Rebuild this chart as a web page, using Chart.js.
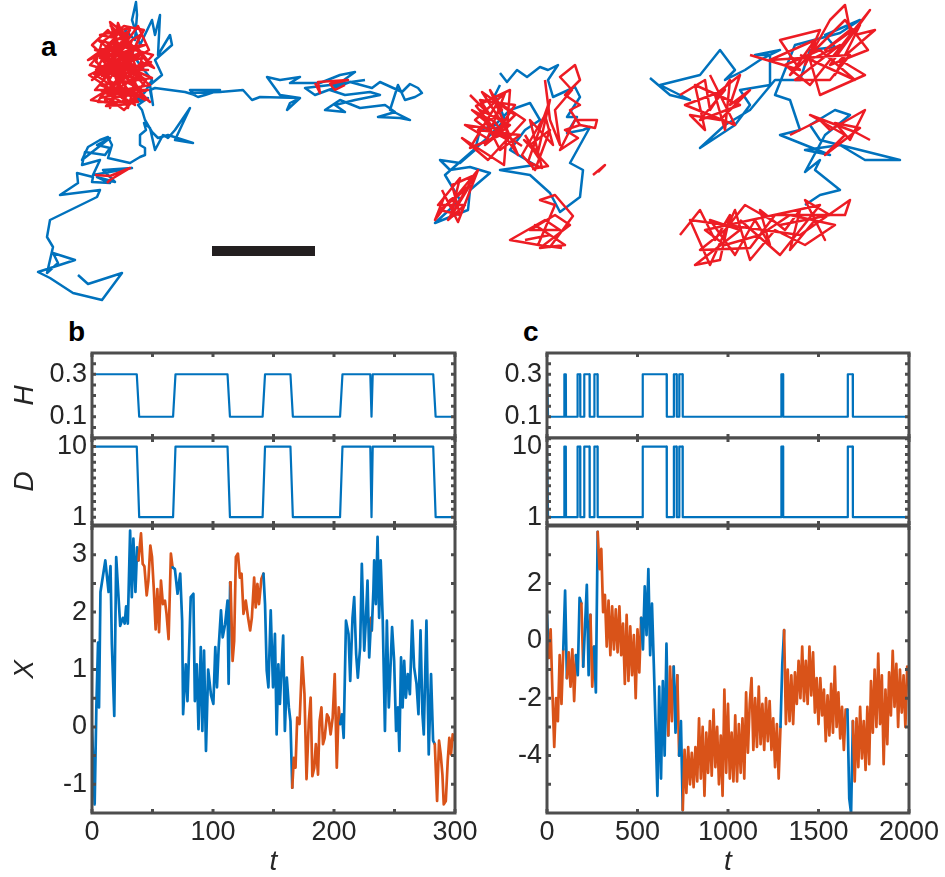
<!DOCTYPE html>
<html lang="en">
<head>
<meta charset="UTF-8">
<title>Switching diffusion traces</title>
<script src="https://cdn.jsdelivr.net/npm/chart.js"></script>
<style>
  body { margin: 0; background: #fff; width: 945px; height: 877px; position: relative; overflow: hidden;
         font-family: "Liberation Sans", Arial, sans-serif; }
  canvas { position: absolute; }
  .lbl { position: absolute; font-weight: bold; font-size: 28px; line-height: 1; color: #000; }
</style>
</head>
<body>
<div class="lbl" style="left:41px;top:33px">a</div>
<div class="lbl" style="left:68px;top:318px">b</div>
<div class="lbl" style="left:523px;top:318px">c</div>

<script>
// ---------- data ----------
// panel a: trajectories (um, y downwards), blue = fast state, red = slow state
const traj1Blue = [[7.8,27.5],[8.8,28.4],[12.2,27.3],[10.2,30.0],[7.3,29.3],[5.0,27.8],[3.8,27.2],[7.5,26.0],[5.3,25.3],[5.8,26.3],[4.7,27.3],[5.3,24.7],[4.7,23.7],[5.0,22.0],[9.7,19.7],[10.0,19.0],[6.0,19.5],[7.8,18.3],[7.7,17.3],[9.3,17.7],[9.2,18.2],[11.0,18.3],[9.7,17.7],[11.5,18.2],[10.3,17.0],[13.2,16.8],[9.3,17.5],[10.0,16.0],[8.2,16.5],[8.5,15.2],[10.5,15.5],[11.0,14.8],[9.7,14.5],[11.0,13.8],[8.2,16.0],[8.8,14.7],[10.0,14.0],[10.8,13.7],[11.2,14.5],[10.8,15.8],[13.0,16.3],[14.0,15.7],[14.5,15.5],[14.5,14.8],[14.0,14.5],[14.0,13.5],[14.6,13.0],[14.4,12.3],[15.0,12.8],[15.5,15.0],[16.3,13.5],[16.8,13.8],[17.5,13.0],[19.0,10.8],[17.5,14.0],[19.3,14.3],[16.8,13.5],[15.8,13.8],[15.2,13.2],[14.5,12.0],[14.2,11.0],[13.8,10.5],[14.8,9.8],[13.5,10.2],[14.5,9.2],[15.2,8.0],[14.0,6.5],[13.0,5.0],[12.5,3.0],[13.5,4.0],[13.7,1.5],[13.6,0.2],[13.2,2.0],[14.0,4.5],[15.2,2.0],[15.5,3.5],[16.0,1.5],[15.8,5.5],[17.0,3.5],[17.2,4.5],[15.5,6.0],[16.2,7.5],[15.0,8.5],[15.3,10.5],[15.0,9.0],[15.5,8.8],[18.5,9.2],[19.5,9.5],[19.0,9.0],[22.0,9.0],[20.5,9.5],[19.8,9.7],[19.0,9.3],[22.0,9.2],[24.3,9.0],[25.2,10.0],[26.0,9.7],[30.0,9.8],[28.7,11.0],[29.0,10.3],[30.0,9.8],[28.0,9.5],[26.7,7.7],[28.0,8.0],[30.0,7.7],[29.0,8.3],[32.0,8.3],[34.0,7.5],[35.5,7.2],[33.0,9.0],[34.5,9.5],[37.0,9.2],[38.0,9.5],[35.5,10.0],[33.5,10.5],[34.5,11.2],[32.5,11.0],[34.0,10.0],[36.0,10.8],[38.5,10.5],[39.5,11.2],[37.8,11.7],[40.0,11.8],[41.0,12.0],[39.0,11.0],[39.8,8.5],[40.5,10.0],[41.5,9.7],[42.2,9.3],[41.8,8.8],[41.0,8.4],[40.2,9.2],[38.0,8.2],[37.2,8.8],[35.0,8.2],[31.5,9.5],[30.5,8.8],[33.0,8.5],[36.5,8.0]];
const traj1Red = [[11.0,2.5],[12.5,4.0],[10.0,3.5],[13.0,2.8],[11.5,5.5],[14.5,4.5],[9.5,5.0],[13.5,6.0],[10.5,7.0],[15.0,6.5],[12.0,3.2],[9.0,6.5],[14.0,8.0],[11.0,4.5],[12.8,9.5],[10.0,8.5],[15.2,7.8],[11.5,6.2],[8.9,7.5],[13.5,10.5],[12.0,7.5],[10.5,10.0],[14.8,9.0],[9.5,9.0],[13.0,5.0],[11.0,10.8],[14.0,3.5],[10.2,6.0],[12.5,8.5],[15.3,5.5],[9.8,4.0],[13.8,7.2],[11.8,2.3],[10.8,8.0],[14.5,10.0],[12.2,6.0],[9.2,8.0],[13.2,4.0],[11.2,9.2],[15.0,8.5],[10.5,5.2],[12.8,10.8],[14.2,5.8],[9.6,7.0],[11.5,3.8],[13.6,9.0],[10.0,9.8],[12.6,7.0],[14.8,7.0],[11.0,6.8],[13.0,3.0],[9.4,5.8],[12.2,9.8],[14.4,8.5],[10.6,4.2],[13.4,6.6],[11.6,8.4],[15.1,6.2],[10.2,7.6],[12.4,5.2],[9.8,10.2],[13.8,10.2],[11.4,7.2],[12.9,8.0],[9.2,4.5],[10.8,3.0],[12.2,4.8],[13.8,2.6],[14.9,5.0],[12.6,6.4],[14.2,7.4],[11.8,8.8],[13.2,9.6],[10.4,9.2],[9.1,10.0],[11.6,10.4],[12.4,11.0],[14.0,9.4],[15.0,10.2],[13.0,8.2],[10.2,5.0],[8.8,6.0],[11.3,5.0],[12.8,3.6],[11.0,2.2],[12.0,5.6],[13.6,4.6],[15.4,6.8],[14.2,6.2],[12.6,7.8],[10.6,6.4],[9.4,7.4],[11.2,8.6],[12.0,9.0],[10.6,10.6],[13.0,10.4],[14.6,8.0],[13.2,7.0],[11.4,4.2],[10.0,5.8],[12.2,7.0],[13.8,5.4],[11.8,6.0],[10.4,7.8],[12.8,6.0],[14.4,3.0],[12.4,2.6],[10.2,4.2],[9.6,6.2],[11.4,7.6],[13.4,8.6],[12.2,10.2],[10.0,9.0],[11.6,9.4]];
const traj1RedB = [[9.5,17.5],[11.0,17.6],[13.0,16.8],[11.0,18.0],[10.7,18.3]];
const traj1RedC = [[31.5,8.3],[32.0,9.3],[31.8,8.2],[34.8,8.0],[33.0,8.4],[33.5,9.0],[34.5,8.5]];

const traj2Blue = [[50.0,7.3],[50.7,8.2],[51.7,7.0],[52.7,7.7],[54.0,6.7],[54.8,7.0],[55.8,6.5],[54.8,8.0],[55.3,9.7],[57.5,8.7],[58.0,9.7],[56.7,11.7],[57.7,11.7],[56.7,13.3],[58.3,13.0],[59.0,12.7],[57.0,16.3],[58.3,17.0],[58.0,19.7],[56.0,21.2],[55.0,19.3],[53.0,17.5],[50.0,17.0],[53.5,16.5],[51.0,15.0],[52.5,13.0],[54.0,12.0],[53.0,10.3],[51.0,11.0],[49.5,12.5],[48.0,13.0],[47.5,15.0],[46.0,16.3],[44.0,16.0],[45.0,17.0],[47.0,16.7],[49.0,17.3],[47.0,19.0],[46.8,21.0],[45.5,21.5],[43.5,22.3],[46.0,20.0],[44.5,17.5],[48.5,14.0],[50.5,12.0],[49.5,9.5],[50.0,8.5]];
const traj2RedA = [[47.0,9.5],[49.0,11.5],[48.0,10.0],[51.5,10.5],[49.5,13.5],[47.5,12.0],[50.5,9.3],[48.5,14.5],[51.0,12.5],[48.0,11.0],[50.0,15.0],[52.0,13.5],[47.8,13.0],[50.2,11.0],[49.0,9.0],[51.8,15.5],[49.5,12.2],[47.2,11.0],[50.8,14.0],[48.5,12.8],[46.5,12.5],[49.0,14.0],[51.5,11.5],[48.2,9.2],[50.8,13.2],[47.0,14.8],[49.8,10.2],[52.5,12.0],[48.8,16.0],[46.2,13.8],[50.4,16.5],[51.0,9.0],[47.6,10.6],[49.2,12.6],[52.2,14.6]];
const traj2RedB = [[52.5,13.5],[54.0,16.0],[53.0,14.5],[55.0,13.0],[53.5,17.0],[52.2,15.5],[54.5,11.5],[55.3,14.5],[53.0,12.0],[54.2,16.8],[52.8,16.2],[55.0,10.0],[53.8,15.2],[52.4,14.0],[54.8,16.6],[53.2,16.9]];
const traj2RedC = [[54.5,8.0],[55.0,12.0],[56.0,14.5],[55.5,11.0],[57.2,9.0],[56.0,7.7],[57.5,6.5],[58.0,8.0],[56.5,9.5],[58.0,10.5],[57.0,11.0],[58.0,12.5],[56.5,13.0],[57.8,13.8],[56.0,15.0],[57.5,12.0],[59.7,12.0],[59.5,12.8],[58.0,12.5]];
const traj2RedD = [[59.3,17.5],[60.5,16.5],[59.8,17.2]];
const traj2RedE = [[44.5,19.5],[43.5,22.0],[45.0,20.0],[46.5,19.0],[44.0,21.0],[46.0,21.5],[45.2,18.5],[47.5,17.5],[44.8,22.0],[46.5,20.5],[43.8,20.5],[46.0,17.8],[45.0,21.8],[47.0,18.5],[45.5,19.8],[47.8,17.0],[45.8,22.2],[44.2,19.0]];
const traj2RedF = [[52.5,24.0],[55.0,23.5],[53.5,22.5],[56.5,24.5],[54.0,24.8],[57.0,22.5],[55.5,21.5],[53.0,23.0],[56.0,23.0],[54.5,22.0],[51.0,24.0],[55.0,24.7],[57.3,21.6],[55.5,19.5],[54.0,20.0],[55.5,20.5],[53.8,24.5],[56.2,24.8]];

const traj3Blue = [[65.0,7.8],[67.0,9.5],[69.0,10.0],[66.0,8.5],[70.0,7.5],[72.0,5.0],[73.5,7.0],[72.5,8.0],[74.5,7.0],[76.0,6.0],[78.0,5.0],[75.5,5.5],[77.0,5.5],[77.0,8.5],[74.0,9.0],[75.0,10.5],[73.5,12.5],[70.0,14.8],[72.5,12.5],[75.0,11.0],[77.5,8.0],[80.0,8.0],[81.0,5.0],[83.5,4.7],[82.5,3.5],[86.0,2.0],[84.0,3.3],[79.5,4.5],[77.5,9.5],[79.0,10.0],[80.0,13.0],[78.0,13.5],[83.0,15.5],[80.5,15.0],[84.0,14.5],[86.5,16.0],[90.0,16.0],[82.0,14.0],[81.0,12.5],[83.5,11.0],[85.0,11.5],[82.5,13.5],[80.5,17.2],[82.0,16.0],[81.5,17.0],[84.0,19.0],[82.0,19.5],[80.5,20.5]];
const traj3RedA = [[75.0,5.5],[80.0,7.0],[78.0,4.0],[82.0,3.0],[80.5,6.5],[83.0,2.0],[84.5,0.5],[85.0,3.0],[82.5,5.0],[86.0,2.5],[83.5,7.5],[85.5,3.5],[87.5,3.0],[84.0,6.0],[86.5,7.5],[82.0,9.5],[81.0,6.0],[84.0,4.5],[79.5,8.0],[83.0,8.0],[85.0,5.5],[77.0,6.0],[81.5,4.0],[79.0,7.5],[84.5,2.0],[86.8,5.0],[83.0,6.5],[87.0,1.0],[81.0,8.5],[78.5,6.5],[82.0,5.0],[85.5,8.0],[80.0,5.5]];
const traj3RedB = [[68.0,9.5],[70.5,8.0],[71.0,11.0],[73.0,8.0],[72.5,13.0],[71.5,9.5],[74.0,7.5],[73.0,10.5],[75.0,9.0],[72.0,12.0],[69.0,11.5],[70.5,13.0],[69.5,8.5],[74.0,10.5],[70.0,12.0],[72.5,9.0],[68.5,10.5],[73.5,12.5],[71.0,7.5]];
const traj3RedC = [[79.0,13.5],[82.0,12.0],[83.0,13.0],[86.5,11.0],[85.0,14.0],[83.5,12.3],[86.0,12.8],[82.5,15.5],[84.5,13.5],[81.0,11.5],[85.5,13.2],[87.0,14.0]];
const traj3RedD = [[68.0,23.5],[70.0,21.0],[71.5,24.0],[73.0,21.5],[72.0,26.0],[69.5,26.5],[74.0,23.0],[71.0,22.0],[73.5,25.5],[75.5,22.0],[77.0,24.5],[76.0,21.0],[78.5,23.0],[80.0,21.0],[79.0,25.0],[81.5,22.0],[82.5,24.0],[80.5,20.0],[83.0,21.5],[78.0,22.5],[74.5,20.5],[72.5,23.0],[70.0,25.0],[75.0,24.8],[77.5,21.5],[84.5,21.5],[85.0,20.0],[80.0,23.5],[69.0,22.0],[71.0,26.5],[73.5,21.0],[75.0,26.0],[77.5,23.0],[80.5,24.5],[83.5,22.5],[79.0,21.5],[76.0,23.5],[72.5,24.5],[70.5,23.0],[82.0,20.5],[78.0,25.5],[74.0,22.0]];
const scaleBarX = [21.2, 31.5];
const scaleBarY = 25.1;

// panel b: state switching times and X(t)
const levelsH = [0.1, 0.3];
const levelsD = [1, 10];
const tSwB = [0, 37, 39, 67, 69, 112, 114, 141, 143, 164, 166, 205, 207, 230, 231, 232, 282, 284, 300];
const stB  = [1, 1, 0, 0, 1, 1, 0, 0, 1, 1, 0, 0, 1, 1, 0, 1, 1, 0, 0];
const tB = [0,2.2,3.6,5,5.8,7,11,13.7,15.3,16.4,18.4,20,23.3,25.5,27,28.2,29.6,31.5,32.9,34.2,35.9,37.3,38.4,40.5,41.9,43.3,45.2,46.6,48.2,49.6,51,52.6,54,55.4,57,58.6,60.3,61.6,63.3,65.2,66.6,68.5,70.7,72.9,74.5,75.3,77.5,78.9,81.6,83.8,85,86.6,88,89.9,91.2,92.6,94.2,96,98.4,100.3,101.9,103.3,104.7,106.6,108,110,112,112.9,114.2,114.6,116.2,117.5,118.9,120.6,122.2,123.6,125.2,127.1,129,130.7,132.1,134,135.3,136.7,138,140,141.7,143,144.4,145.8,147.7,149.6,151.2,152.6,154,155.3,156.7,158,159.4,161,162.7,164,165.5,166.8,168.2,169.6,171.5,173.7,175.6,177.3,179.2,180.7,182.1,183.7,185,186.8,188.1,189.6,190.9,192.3,194.2,195.6,197.2,198.9,200.6,202.3,203.9,205.2,206.6,208,209.9,212,213.4,215.3,216.7,218.3,219.7,221.6,223,225,226.3,227.7,229.1,230.7,231.2,232.6,233.2,234.6,236,237.3,238.6,240.3,242.1,243.7,245.3,246.9,248,249.7,251.3,252.9,254,255.4,256.7,258,259.4,261,262.7,264.6,266.2,268.2,269.8,271.5,273.1,274.2,276.4,278.3,280.2,281.9,283.3,285.2,286.8,288.2,289.6,290.7,292.4,294,295.3,296.7,298.1,300];
const xB = [0,-1.35,0.34,1.47,0.34,2.35,2.9,2.35,2.8,1.45,0.19,2.96,1.76,1.9,1.8,2.1,1.8,3.42,2.26,3.28,2.35,3.13,2.9,3.37,2.84,2.8,2.29,2.55,3.16,2.96,2.43,1.7,2.4,1.65,2.55,2.14,2.2,1.97,1.53,3.02,2.78,2.75,2.32,2.67,1.85,0.22,1.09,0.45,2.26,2.32,0.45,1.09,-0.04,1.39,-0.07,1.33,-0.42,1.0,0.55,0.4,1.39,0.69,1.39,2.03,1.56,1.79,2.2,0.75,2.52,2.43,1.15,1.5,2.96,3.02,2.6,2.67,1.97,2.2,1.9,1.68,1.9,2.6,2.08,2.49,2.14,2.58,2.67,2.14,0.98,0.69,2.03,0.69,1.62,-0.13,1.09,0.4,1.04,1.59,-0.07,0.86,0.34,0.1,-1.06,-0.54,-0.71,0.16,0.05,1.21,0.57,-0.91,0.1,0.51,-0.86,-0.71,-0.3,-0.83,0.1,0.34,-0.3,-0.19,0.22,0.16,-0.13,0.16,0.92,-0.71,0.34,0.05,0.22,-0.19,1.85,1.62,0.8,1.9,2.26,1.27,0.86,1.39,2.84,1.33,1.85,2.55,1.21,1.9,1.68,2.4,2.9,2.14,3.31,1.9,2.9,1.85,-0.07,1.85,0.34,1.15,1.74,1.15,-0.07,0.34,-0.42,1.21,0.34,1.15,0.51,0.92,0.57,1.85,1.04,0.75,0.22,1.68,0.22,-0.13,1.85,-0.48,0.92,-0.24,-0.3,-1.29,-0.24,-0.48,-0.83,-1.35,-1.29,-0.59,-0.19,-0.48,-0.13,-0.24];

// panel c: state switching times and X(t) sampled every dtC
const tSwC = [0,5,6,95,96,104,105,168,169,183,184,205,206,235,236,261,262,279,280,528,529,661,662,700,701,716,717,730,731,749,750,1294,1295,1304,1305,1661,1662,1689,1690,2000];
const stC  = [1,1,0,0,1,1,0,0,1,1,0,0,1,1,0,0,1,1,0,0,1,1,0,0,1,1,0,0,1,1,0,0,1,1,0,0,1,1,0,0];
const dtC = 10;
const xC = [
  0.9,-0.6,0.4,-1.8,-3.7,-2.0,-2.8,-0.5,-2.2,-0.3,
  1.75,-1.3,-0.4,-1.6,-0.3,-2.1,-0.5,-1.2,1.5,1.3,
  -0.9,0.5,1.95,-1.2,0.9,-1.6,-0.2,-1.8,3.8,2.5,
  3.2,1.0,1.6,-0.2,1.4,-0.5,1.2,-0.3,1.1,-0.4,
  1.2,-0.5,0.6,-1.5,0.9,-1.4,0.5,-1.2,0.2,-2.0,
  0.4,-1.1,0.8,-0.3,1.9,0.2,2.5,-0.5,1.3,-0.8,
  -3.0,-5.4,-1.6,-4.8,-1.4,-4.0,-0.1,-3.3,-0.9,-2.8,
  -0.9,-3.2,-1.2,-4.0,-2.8,-5.9,-3.8,-5.3,-3.7,-5.0,
  -3.9,-5.1,-3.7,-4.9,-2.7,-4.8,-3.0,-5.4,-3.2,-4.6,
  -2.8,-4.7,-2.4,-4.4,-3.0,-5.0,-3.3,-5.4,-1.7,-4.6,
  -2.2,-4.8,-3.2,-4.9,-2.6,-4.9,-2.9,-4.6,-2.7,-4.8,
  -1.8,-3.9,-2.2,-1.3,-3.8,-2.0,-3.7,-1.6,-3.6,-2.2,
  -3.8,-2.0,-3.5,-2.1,-3.8,-2.7,-4.4,-2.9,-4.8,-3.0,
  -0.8,0.37,-2.9,-1.0,-2.8,-1.2,-2.9,-1.1,-2.2,-0.7,
  -2.0,-0.2,-2.1,-0.7,-2.2,-0.2,-1.9,-0.4,-2.5,-1.3,
  -2.9,-1.3,-2.6,-1.7,-3.5,-1.9,-3.3,-1.5,-3.2,-0.9,
  -3.0,-1.8,-3.4,-2.3,-3.8,-2.4,-2.4,-5.5,-6.0,-2.8,
  -4.9,-2.7,-4.4,-2.3,-4.1,-2.8,-4.5,-2.3,-4.3,-1.4,
  -3.2,-1.0,-3.0,-0.45,-2.9,-1.2,-4.3,-1.7,-3.6,-1.1,
  -2.6,-0.35,-2.3,-0.8,-3.0,-1.0,-2.5,-1.2,-3.0,-0.9,
  -1.5];

// ticks
const tLabelsB = [0, 100, 200, 300];
const tTicksB = [0, 50, 100, 150, 200, 250, 300];
const tLabelsC = [0, 500, 1000, 1500, 2000];
const hLabels = [0.1, 0.3];
const hTicks = [0.05, 0.1, 0.15, 0.2, 0.25, 0.3, 0.35];
const dLabels = [1, 10];
const dTicks = [1, 2, 3, 4, 5, 6, 7, 8, 9, 10, 11];
const xLabelsB = [-1, 0, 1, 2, 3];
const xTicksB = [-1, -0.5, 0, 0.5, 1, 1.5, 2, 2.5, 3];
const xLabelsC = [-4, -2, 0, 2];
const xTicksC = [-5, -4, -3, -2, -1, 0, 1, 2, 3];

// ---------- styling ----------
const BLUE = '#0072BD', ORANGE = '#D95319', RED = '#ED1C24';
const INK = '#262626', AXIS = '#4D4D4D';
const FAMILY = '"Liberation Sans", Arial, sans-serif';
const TICKFONT = { family: FAMILY, size: 27 };
const TITLEFONT = { family: FAMILY, size: 28, style: 'italic' };

const pts = a => a.map(p => ({ x: p[0], y: p[1] }));

function stateAt(ts, st, t) {
  for (let i = 0; i < ts.length - 1; i++) {
    if (t >= ts[i] && t <= ts[i + 1]) {
      const f = (t - ts[i]) / (ts[i + 1] - ts[i]);
      return st[i] + (st[i + 1] - st[i]) * f;
    }
  }
  return st[st.length - 1];
}
function highOn(ts, st, a, b) {
  if (stateAt(ts, st, a) > 0.5 || stateAt(ts, st, b) > 0.5) return true;
  for (let i = 0; i < ts.length; i++) if (ts[i] > a && ts[i] < b && st[i] === 1) return true;
  return false;
}

// box with inward ticks on all four sides
const frame = {
  id: 'frame',
  afterDraw(chart, args, o) {
    if (!o.on) return;
    const { ctx, chartArea: a, scales: { x, y } } = chart;
    ctx.save();
    ctx.strokeStyle = AXIS;
    ctx.lineWidth = 3;
    ctx.beginPath();
    o.xTicks.forEach(v => {
      const p = x.getPixelForValue(v);
      ctx.moveTo(p, a.top); ctx.lineTo(p, a.top + 4);
      ctx.moveTo(p, a.bottom); ctx.lineTo(p, a.bottom - 4);
    });
    o.yTicks.forEach(v => {
      const p = y.getPixelForValue(v);
      ctx.moveTo(a.left, p); ctx.lineTo(a.left + 4, p);
      ctx.moveTo(a.right, p); ctx.lineTo(a.right - 4, p);
    });
    ctx.stroke();
    ctx.strokeRect(a.left, a.top, a.right - a.left, a.bottom - a.top);
    ctx.restore();
  }
};

function plot(box, o) {
  const padT = 4, padR = 36;
  const cv = document.createElement('canvas');
  cv.width = box.w + o.padL + padR;
  cv.height = box.h + padT + o.padB;
  cv.style.left = (box.x - o.padL) + 'px';
  cv.style.top = (box.y - padT) + 'px';
  document.body.appendChild(cv);
  return new Chart(cv, {
    type: 'line',
    data: { datasets: o.datasets },
    options: {
      responsive: false, animation: false, devicePixelRatio: 1,
      layout: { padding: { left: 0, top: padT, right: padR, bottom: 0 } },
      elements: { point: { radius: 0 }, line: { tension: 0, borderJoinStyle: 'round', borderCapStyle: 'round' } },
      plugins: { legend: { display: false }, tooltip: { enabled: false },
                 frame: { on: true, xTicks: o.xTicks, yTicks: o.yTicks } },
      scales: {
        x: {
          type: 'linear', min: o.xMin, max: o.xMax,
          afterBuildTicks: s => { s.ticks = o.xLabels.map(v => ({ value: v })); },
          afterFit: s => { s.height = o.padB; s.paddingLeft = 0; s.paddingRight = 0; },
          grid: { display: false, drawTicks: false }, border: { display: false },
          ticks: { display: o.showX, autoSkip: false, maxRotation: 0, padding: 3, color: INK, font: TICKFONT,
                   callback: v => String(v) },
          title: { display: !!o.xTitle, text: o.xTitle || '', color: INK, font: TITLEFONT, padding: { top: 0, bottom: 0 } }
        },
        y: {
          min: o.yMin, max: o.yMax,
          afterBuildTicks: s => { s.ticks = o.yLabels.map(v => ({ value: v })); },
          afterFit: s => { s.width = o.padL; s.paddingTop = 0; s.paddingBottom = 0; },
          grid: { display: false, drawTicks: false }, border: { display: false },
          ticks: { autoSkip: false, padding: 5, color: INK, font: TICKFONT, callback: v => String(v) },
          title: { display: !!o.yTitle, text: o.yTitle || '', color: INK, font: TITLEFONT, padding: { top: 8, bottom: 0 } }
        }
      }
    },
    plugins: [frame]
  });
}

// ---------- panel a ----------
(function () {
  const cv = document.createElement('canvas');
  cv.width = 945; cv.height = 310;
  cv.style.left = '0px'; cv.style.top = '0px';
  document.body.appendChild(cv);
  const line = (d, c, ord) => ({ data: pts(d), borderColor: c, borderWidth: 2.5, showLine: true,
                                 pointRadius: 0, order: ord, borderJoinStyle: 'round', tension: 0 });
  new Chart(cv, {
    type: 'scatter',
    data: { datasets: [
      line(traj1Red, RED, 0), line(traj1RedB, RED, 0), line(traj1RedC, RED, 0),
      line(traj2RedA, RED, 0), line(traj2RedB, RED, 0), line(traj2RedC, RED, 0),
      line(traj2RedD, RED, 0), line(traj2RedE, RED, 0), line(traj2RedF, RED, 0),
      line(traj3RedA, RED, 0), line(traj3RedB, RED, 0), line(traj3RedC, RED, 0), line(traj3RedD, RED, 0),
      line(traj1Blue, BLUE, 1), line(traj2Blue, BLUE, 1), line(traj3Blue, BLUE, 1),
      { data: scaleBarX.map(x => ({ x, y: scaleBarY })), borderColor: '#231F20', borderWidth: 10,
        borderCapStyle: 'butt', showLine: true, pointRadius: 0, order: 0 }
    ] },
    options: {
      responsive: false, animation: false, devicePixelRatio: 1,
      layout: { padding: 0 },
      plugins: { legend: { display: false }, tooltip: { enabled: false }, frame: { on: false } },
      scales: { x: { display: false, min: 0, max: 94.5 }, y: { display: false, min: 0, max: 31, reverse: true } }
    },
    plugins: [frame]
  });
})();

// ---------- panels b and c ----------
function stepSet(ts, st, levels) {
  return [{ data: ts.map((t, i) => ({ x: t, y: levels[st[i]] })), borderColor: BLUE, borderWidth: 2.2 }];
}
function traceSet(ts, xs, sw, st) {
  return [{ data: ts.map((t, i) => ({ x: t, y: xs[i] })), borderColor: BLUE, borderWidth: 2.7,
            segment: { borderColor: c => highOn(sw, st, c.p0.parsed.x, c.p1.parsed.x) ? BLUE : ORANGE } }];
}
const tC = xC.map((v, i) => i * dtC);

const colB = { x: 92, w: 363 }, colC = { x: 547, w: 362 };
const rowH = { y: 353, h: 85 }, rowD = { y: 438, h: 87 }, rowX = { y: 526, h: 287 };

plot({ x: colB.x, w: colB.w, y: rowH.y, h: rowH.h }, {
  padL: 92, padB: 0, xMin: 0, xMax: 300, yMin: 0, yMax: 0.4, xLabels: tLabelsB, yLabels: hLabels,
  xTicks: tTicksB, yTicks: hTicks, showX: false, yTitle: 'H', datasets: stepSet(tSwB, stB, levelsH) });
plot({ x: colB.x, w: colB.w, y: rowD.y, h: rowD.h }, {
  padL: 92, padB: 0, xMin: 0, xMax: 300, yMin: 0, yMax: 11.1, xLabels: tLabelsB, yLabels: dLabels,
  xTicks: tTicksB, yTicks: dTicks, showX: false, yTitle: 'D', datasets: stepSet(tSwB, stB, levelsD) });
plot({ x: colB.x, w: colB.w, y: rowX.y, h: rowX.h }, {
  padL: 92, padB: 66, xMin: 0, xMax: 300, yMin: -1.5, yMax: 3.5, xLabels: tLabelsB, yLabels: xLabelsB,
  xTicks: tTicksB, yTicks: xTicksB, showX: true, xTitle: 't', yTitle: 'X', datasets: traceSet(tB, xB, tSwB, stB) });

plot({ x: colC.x, w: colC.w, y: rowH.y, h: rowH.h }, {
  padL: 60, padB: 0, xMin: 0, xMax: 2000, yMin: 0, yMax: 0.4, xLabels: tLabelsC, yLabels: hLabels,
  xTicks: tLabelsC, yTicks: hTicks, showX: false, datasets: stepSet(tSwC, stC, levelsH) });
plot({ x: colC.x, w: colC.w, y: rowD.y, h: rowD.h }, {
  padL: 60, padB: 0, xMin: 0, xMax: 2000, yMin: 0, yMax: 11.1, xLabels: tLabelsC, yLabels: dLabels,
  xTicks: tLabelsC, yTicks: dTicks, showX: false, datasets: stepSet(tSwC, stC, levelsD) });
plot({ x: colC.x, w: colC.w, y: rowX.y, h: rowX.h }, {
  padL: 60, padB: 66, xMin: 0, xMax: 2000, yMin: -6, yMax: 4, xLabels: tLabelsC, yLabels: xLabelsC,
  xTicks: tLabelsC, yTicks: xTicksC, showX: true, xTitle: 't', datasets: traceSet(tC, xC, tSwC, stC) });
</script>
</body>
</html>
